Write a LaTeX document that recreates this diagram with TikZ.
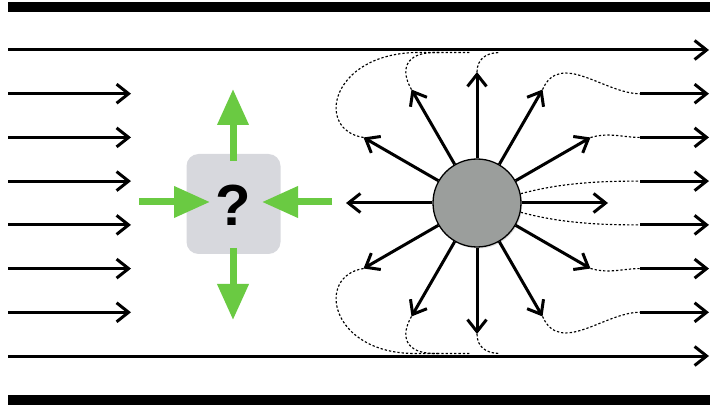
\documentclass[tikz,border=0pt]{standalone}
\usepackage{fontspec}
\newfontfamily\qfont{Liberation Sans}
\usetikzlibrary{arrows.meta,calc,shadows}
\definecolor{qgray}{RGB}{215,216,221}
\definecolor{sgray}{RGB}{155,158,156}
\definecolor{agreen}{RGB}{106,202,66}
\begin{document}
\begin{tikzpicture}[x=1pt,y=-1pt,
  flow/.style={line width=3pt,-{Straight Barb[length=12pt,width=19pt]}},
  stream/.style={line width=1.15pt,dash pattern=on 2.3pt off 2pt},
  garrow/.style={line width=7pt,draw=agreen,-{Triangle[length=36pt,width=30pt,fill=agreen]}}]
\useasboundingbox (0,0) rectangle (710,406);
% walls
\fill (8,2) rectangle (710,12);
\fill (8,395) rectangle (710,405);
% outer flow lines
\coordinate (TL) at (8,50); \coordinate (TR) at (709,50);
\coordinate (BL) at (8,356); \coordinate (BR) at (709,356);
\draw[flow] (TL) -- (TR);
\draw[flow] (BL) -- (BR);
\foreach \i/\y in {1/93.7,2/137.4,3/181.1,4/224.9,5/268.6,6/312.3}{
  \coordinate (l\i) at (8,\y); \coordinate (m\i) at (131,\y);
  \coordinate (r\i) at (640,\y); \coordinate (e\i) at (709,\y);
  \draw[flow] (l\i) -- (m\i);
  \draw[flow] (r\i) -- (e\i);
}
% question box
\node[fill=qgray, rounded corners=12pt, minimum width=94pt, minimum height=100pt, inner sep=0pt] (Q) at (233.5,204) {};
\node[inner sep=0pt] (qm) at (233,205) {\qfont\bfseries\fontsize{58}{58}\selectfont ?};
\coordinate (gu0) at (233,161); \coordinate (gu1) at (233,89);
\coordinate (gd0) at (233,248); \coordinate (gd1) at (233,320);
\coordinate (gl0) at (139,202); \coordinate (gl1) at (210,202);
\coordinate (gr0) at (332,202); \coordinate (gr1) at (262,202);
\draw[garrow] (gu0) -- (gu1);
\draw[garrow] (gd0) -- (gd1);
\draw[garrow] (gl0) -- (gl1);
\draw[garrow] (gr0) -- (gr1);
% sphere
\coordinate (C) at (477,203);
\node[circle, minimum size=88pt, inner sep=0pt, fill=sgray, draw=black, line width=1.3pt,
  drop shadow={shadow xshift=1.2pt, shadow yshift=-1.5pt, opacity=0.25}] (S) at (C) {};
\foreach \a in {0,30,...,330}{
  \coordinate (t\a) at ($(C)+(\a:131pt)$);
  \draw[flow] (S.\a) -- (t\a);
}
% streamlines
\draw[stream] (t150) .. controls (315,130) and (330,55) .. (415,52.5) -- (440,52.5);
\draw[stream] (t120) .. controls (400,70) and (405,52.5) .. (435,52.5) -- (470,52.5);
\draw[stream] (t90) .. controls (477,60) and (485,52.5) .. (500,52.5);
\draw[stream] (t210) .. controls (315,276) and (330,353.5) .. (415,353.5) -- (440,353.5);
\draw[stream] (t240) .. controls (400,336) and (405,353.5) .. (435,353.5) -- (470,353.5);
\draw[stream] (t270) .. controls (477,346) and (485,353.5) .. (500,353.5);
\draw[stream] (t60) .. controls (560,50) and (605,94) .. (r1);
\draw[stream] (t30) .. controls (610,132) and (622,137.4) .. (r2);
\draw[stream] (S.12) .. controls (560,183) and (600,181) .. (r3);
\draw[stream] (S.348) .. controls (560,223) and (600,225) .. (r4);
\draw[stream] (t330) .. controls (610,274) and (622,268.6) .. (r5);
\draw[stream] (t300) .. controls (560,356) and (605,312) .. (r6);
\end{tikzpicture}
\end{document}
